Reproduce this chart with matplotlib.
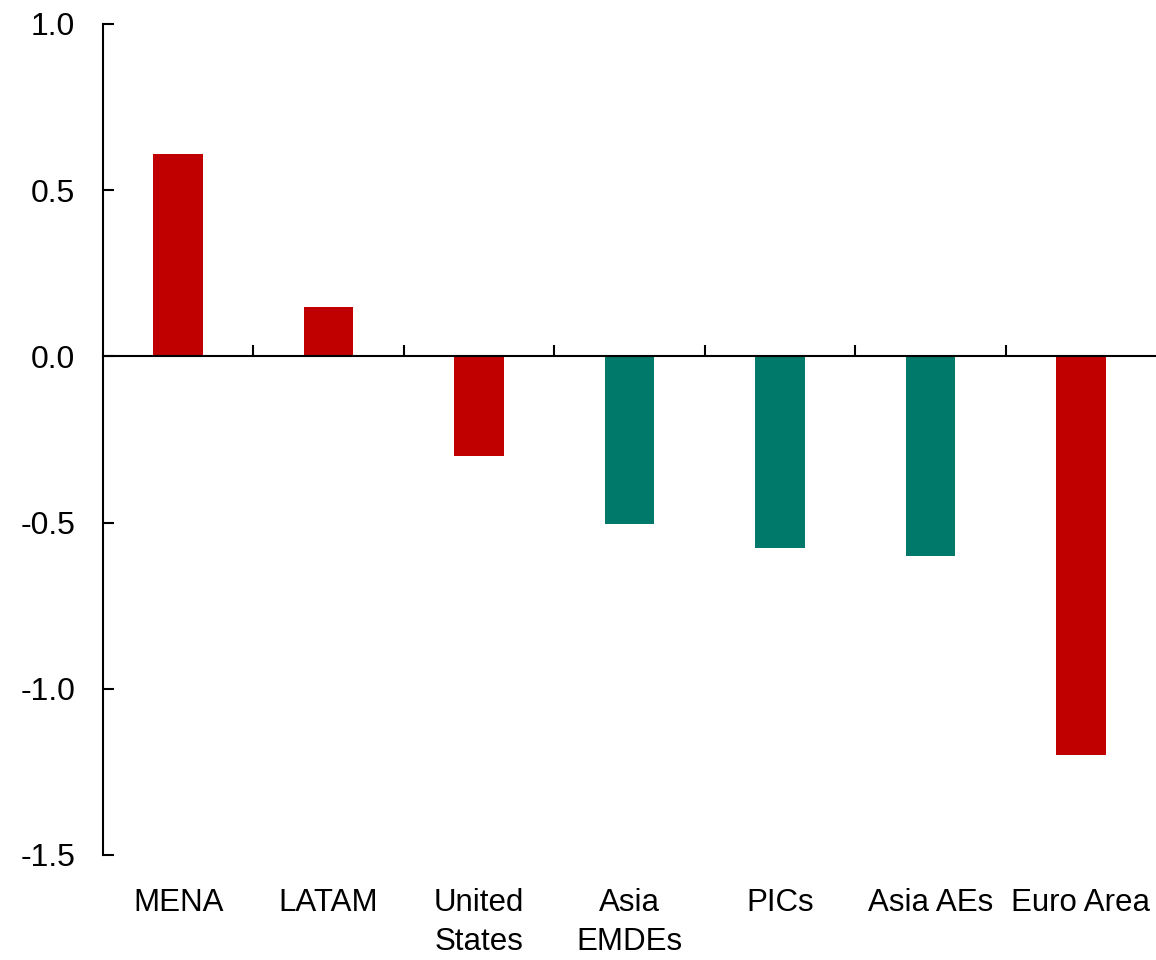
import matplotlib.pyplot as plt
import numpy as np

categories = ["MENA", "LATAM", "United\nStates", "Asia\nEMDEs", "PICs", "Asia AEs", "Euro Area"]
values = [0.61, 0.15, -0.30, -0.505, -0.575, -0.60, -1.20]
colors = ["#C00000", "#C00000", "#C00000", "#00786A", "#00786A", "#00786A", "#C00000"]
y_ticks = [-1.5, -1.0, -0.5, 0.0, 0.5, 1.0]

plt.rcParams['font.family'] = ['Liberation Sans', 'DejaVu Sans']

fig = plt.figure(figsize=(11.56, 9.6), dpi=100)
ax = fig.add_axes([103/1156, 1 - 855/960, 1 - 103/1156, (855 - 24)/960])

x = np.arange(len(categories))
ax.bar(x, values, width=0.33, color=colors, zorder=2)

ax.set_xlim(-0.5, len(categories) - 0.5)
ax.set_ylim(-1.5, 1.0)
ax.set_yticks(y_ticks)
ax.set_yticklabels([f"{v:.1f}" for v in y_ticks])

for s in ['top', 'right']:
    ax.spines[s].set_visible(False)
ax.spines['bottom'].set_position(('data', 0))
ax.spines['bottom'].set_linewidth(1.5)
ax.spines['left'].set_linewidth(1.5)
ax.spines['bottom'].set_zorder(3)

# category boundary ticks sit on the zero line
ax.set_xticks(np.arange(0.5, len(categories) - 0.5, 1.0))
ax.set_xticklabels([])
ax.tick_params(axis='x', direction='in', length=8, width=1.5)
ax.tick_params(axis='y', direction='in', length=8, width=1.5, pad=20, labelsize=23)

for i, lab in enumerate(categories):
    ax.text(i, -0.04, lab, transform=ax.get_xaxis_transform(), ha='center', va='top',
            fontsize=22.5, linespacing=1.4)

fig.savefig("out.png", dpi=100)
